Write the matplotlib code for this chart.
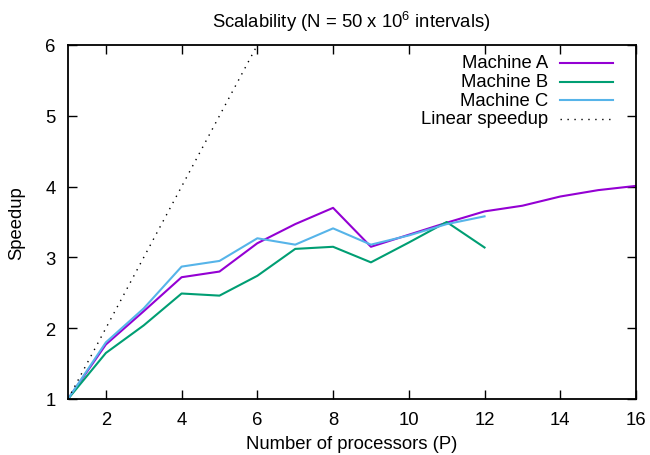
import matplotlib
matplotlib.use("Agg")
import matplotlib.pyplot as plt

plt.rcParams['font.family'] = ['Liberation Sans', 'DejaVu Sans']
plt.rcParams['mathtext.fontset'] = 'custom'
plt.rcParams['mathtext.rm'] = 'Liberation Sans'
plt.rcParams['mathtext.it'] = 'Liberation Sans'

procs_a = [1, 2, 3, 4, 5, 6, 7, 8, 9, 10, 11, 12, 13, 14, 15, 16]
speed_a = [1.0, 1.77, 2.24, 2.72, 2.80, 3.20, 3.47, 3.70, 3.15, 3.32, 3.49, 3.65, 3.73, 3.86, 3.95, 4.01]
procs_b = [1, 2, 3, 4, 5, 6, 7, 8, 9, 10, 11, 12]
speed_b = [1.0, 1.65, 2.04, 2.49, 2.46, 2.74, 3.12, 3.15, 2.93, 3.21, 3.50, 3.14]
procs_c = [1, 2, 3, 4, 5, 6, 7, 8, 9, 10, 11, 12]
speed_c = [1.0, 1.80, 2.28, 2.87, 2.95, 3.27, 3.18, 3.41, 3.18, 3.31, 3.47, 3.58]
linear_x = [1, 16]
labels = ["Machine A", "Machine B", "Machine C", "Linear speedup"]
colors = ["#9400D3", "#009E73", "#56B4E9", "black"]
xticks = [2, 4, 6, 8, 10, 12, 14, 16]
yticks = [1, 2, 3, 4, 5, 6]

FS = 13.3
W, H = 650, 456
fig = plt.figure(figsize=(6.5, 4.56), dpi=100)
ax = fig.add_axes([68 / W, 1 - 400 / H, (636 - 68) / W, (400 - 46) / H])

ax.plot(procs_a, speed_a, color=colors[0], lw=1.5)
ax.plot(procs_b, speed_b, color=colors[1], lw=1.5)
ax.plot(procs_c, speed_c, color=colors[2], lw=1.5)
ax.plot(linear_x, linear_x, color=colors[3], lw=1.0, linestyle=(0, (1, 4)))

ax.set_xlim(1, 16)
ax.set_ylim(1, 6)
ax.set_xticks(xticks)
ax.set_yticks(yticks)
ax.tick_params(direction='in', length=6.5, width=1.0, top=True, right=True,
               labelsize=FS)
ax.tick_params(axis='x', pad=8.5)
ax.tick_params(axis='y', pad=9)
for s in ax.spines.values():
    s.set_linewidth(1.3)

fig.text(351 / W, 1 - 28.5 / H, r"Scalability (N = 50 x 10$^6$ intervals)",
         ha='center', va='baseline', fontsize=FS)
ax.set_xlabel("Number of processors (P)", fontsize=FS, labelpad=5)
fig.text(17 / W, 1 - 223 / H, "Speedup", rotation=90, ha='center', va='center',
         fontsize=FS)

# legend drawn gnuplot-style: right-aligned text, sample line to the right
rows_y = [64, 82.5, 101, 120]
styles = ['-', '-', '-', (0, (1, 4))]
lws = [1.5, 1.5, 1.5, 1.0]
for lab, col, ry, st, lw in zip(labels, colors, rows_y, styles, lws):
    yf = 1 - ry / H
    fig.text(548 / W, yf, lab, ha='right', va='center', fontsize=FS)
    fig.add_artist(plt.Line2D([560 / W, 613 / W], [yf, yf], color=col, lw=lw,
                              linestyle=st, transform=fig.transFigure))

fig.savefig("out.png", dpi=100)
